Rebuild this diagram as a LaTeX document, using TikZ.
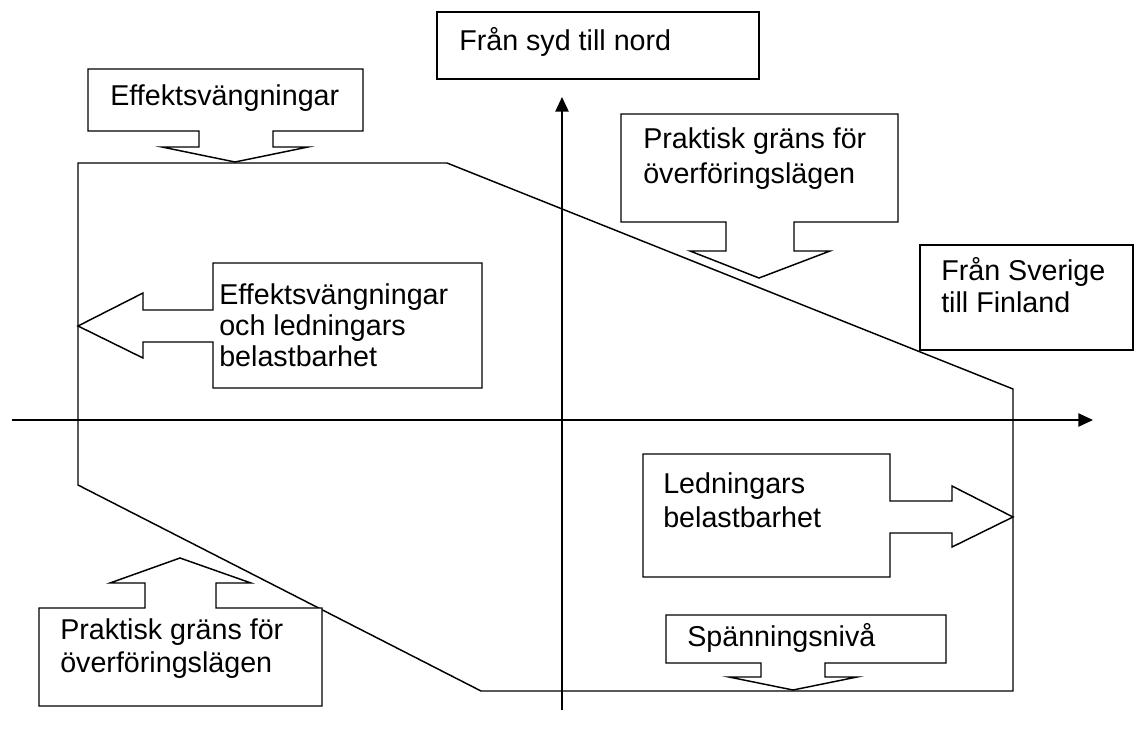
\documentclass[tikz,border=0pt]{standalone}
\usepackage{fontspec}
\setmainfont{Liberation Sans}
\usetikzlibrary{arrows.meta}
\tikzset{
  lbl/.style={anchor=base west,inner sep=0pt,align=left,font=\fontsize{21.5}{25.5}\selectfont},
  callout/.style={draw,line width=1.1pt,fill=white,line join=miter},
  axis/.style={line width=1.1pt,-{Triangle[length=11pt,width=10pt]}}
}
\begin{document}
\begin{tikzpicture}[x=0.75pt,y=-0.75pt]
 \useasboundingbox (0,0) rectangle (1142,739);
 % axes
 \coordinate (xl) at (12,420);
 \coordinate (xr) at (1093,420);
 \coordinate (yb) at (562,710);
 \coordinate (yt) at (562,97);
 \draw[axis] (xl) -- (xr);
 \draw[axis] (yb) -- (yt);
 % area of transfer
 \draw[line width=1.1pt,line join=miter] (78,163)--(447,163)--(1013,389)--(1013,691)--(481,691)--(78,485)--cycle;
 % boxes
 \draw[callout] (437,12) rectangle (759,79);
 \draw[callout] (920,245) rectangle (1133,350);
 \draw[callout] (88,69)--(363,69)--(363,131)--(273,131)--(273,147)--(308,147)--(235,162)--(162,147)--(199,147)--(199,131)--(88,131)--cycle;
 \draw[callout] (213,263)--(482,263)--(482,388)--(213,388)--(213,342)--(143,342)--(143,358)--(78,326)--(143,293)--(143,310)--(213,310)--cycle;
 \draw[callout] (621,114)--(898,114)--(898,222)--(794,222)--(794,251)--(830,251)--(759,278)--(690,251)--(726,251)--(726,222)--(621,222)--cycle;
 \draw[callout] (643,454)--(890,454)--(890,501)--(952,501)--(952,486)--(1013,517)--(952,547)--(952,533)--(890,533)--(890,577)--(643,577)--cycle;
 \draw[callout] (39,608)--(145,608)--(145,583)--(110,583)--(180,558)--(251,583)--(216,583)--(216,608)--(322,608)--(322,706)--(39,706)--cycle;
 \draw[callout] (666,615)--(946,615)--(946,663)--(825,663)--(825,677)--(857,677)--(793,690)--(729,677)--(761,677)--(761,663)--(666,663)--cycle;
 % texts (base = last line)
 \node[lbl] (sydnord) at (459,50) {Från syd till nord};
 \node[lbl,font=\fontsize{21.5}{24}\selectfont] (sverfin) at (941,312) {Från Sverige\\till Finland};
 \node[lbl] (effekt) at (110,105) {Effektsvängningar};
 \node[lbl,font=\fontsize{21.5}{23}\selectfont] (effled) at (219,366) {Effektsvängningar\\och ledningars\\belastbarhet};
 \node[lbl,font=\fontsize{21.5}{26.2}\selectfont] (praktup) at (643,183) {Praktisk gräns för\\överföringslägen};
 \node[lbl] (ledn) at (663,527) {Ledningars\\belastbarhet};
 \node[lbl,font=\fontsize{21.5}{24.7}\selectfont] (praktlow) at (60,672) {Praktisk gräns för\\överföringslägen};
 \node[lbl] (spann) at (687,646) {Spänningsnivå};
\end{tikzpicture}
\end{document}
